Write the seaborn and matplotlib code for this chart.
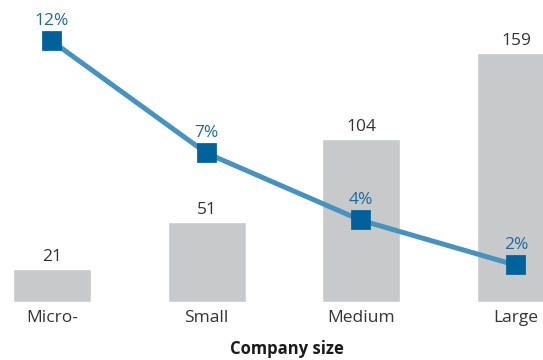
import matplotlib
matplotlib.use("Agg")
import matplotlib.pyplot as plt
import seaborn as sns
import pandas as pd

# Data
sizes = ["Micro-", "Small", "Medium", "Large"]
counts = [21, 51, 104, 159]
shares = [12, 7, 4, 2]
share_labels = ["12%", "7%", "4%", "2%"]

df = pd.DataFrame({"size": sizes, "count": counts, "share": shares})

sns.set_theme(style="white")
plt.rcParams["font.family"] = ["Open Sans", "DejaVu Sans"]

bar_color = "#c8c9cb"
line_color = "#4593be"
marker_color = "#00629a"
pct_color = "#1d6b9c"
text_color = "#333333"

fig = plt.figure(figsize=(5.43, 3.6), dpi=100)
ax = fig.add_axes([0, 58 / 360, 1, 302 / 360])

sns.barplot(data=df, x="size", y="count", color=bar_color, width=0.505,
            saturation=1, ax=ax)

ax2 = ax.twinx()
sns.pointplot(data=df, x="size", y="share", ax=ax2, color=line_color,
              markers="s", linewidth=3.6, markersize=12,
              markerfacecolor=marker_color, markeredgecolor=marker_color,
              errorbar=None)

ax.set_xlim(-0.336, 3.175)
ax.set_ylim(0, 192.8)
ax2.set_ylim(0.357, 13.84)

for i, v in enumerate(counts):
    ax.annotate(str(v), (i, v), xytext=(0, 5.8), textcoords="offset points",
                ha="center", va="baseline", fontsize=12.5, color=text_color)

for i, (v, lab) in enumerate(zip(shares, share_labels)):
    ax2.annotate(lab, (i, v), xytext=(0, 11.5), textcoords="offset points",
                 ha="center", va="baseline", fontsize=12.5, color=pct_color)

for a in (ax, ax2):
    for s in a.spines.values():
        s.set_visible(False)
    a.set_yticks([])
    a.set_ylabel("")
    a.set_xlabel("")
    a.tick_params(axis="x", length=0)

ax.tick_params(axis="x", labelsize=12.5, labelcolor=text_color, pad=6)
ax2.tick_params(axis="x", labelbottom=False, labeltop=False)

fig.text(287 / 543, 1 - 349 / 360, "Company size", ha="center", va="center",
         fontsize=12, fontweight="bold", color="#1a1a1a")

fig.savefig("out.png", dpi=100)
